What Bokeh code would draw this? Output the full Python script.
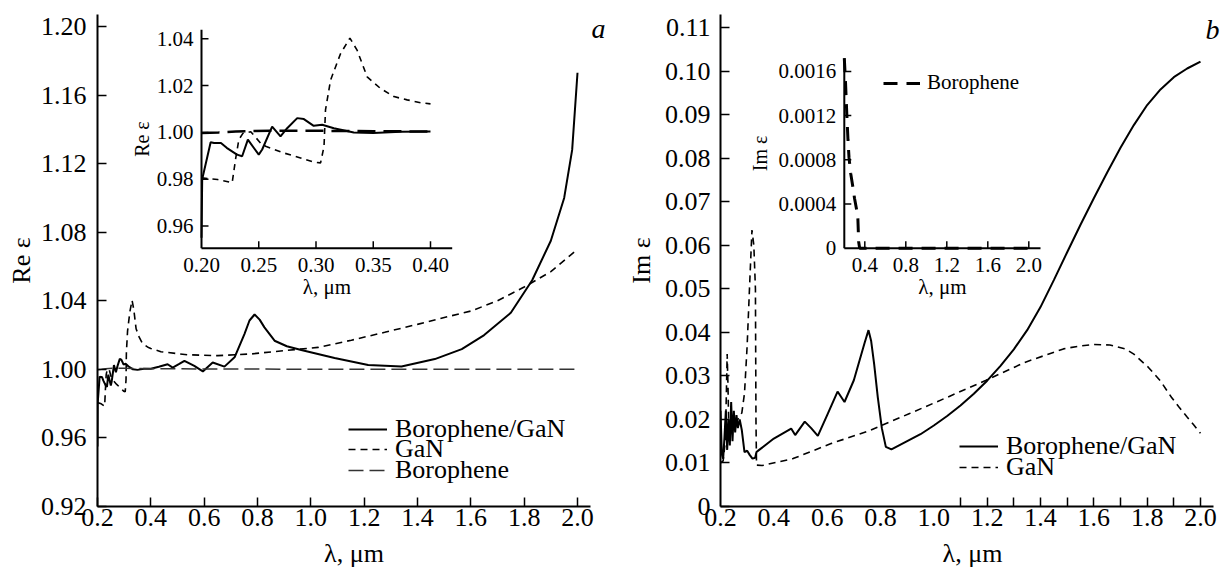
import numpy as np
from bokeh.plotting import figure
from bokeh.layouts import row
from bokeh.models import Range1d, FixedTicker, Legend, LegendItem, Label, NumeralTickFormatter
from bokeh.core.properties import value
from bokeh.embed import file_html
from bokeh.resources import INLINE

FONT = "Liberation Serif, Times New Roman, DejaVu Serif, serif"

# ---------------- panel a : Re eps ----------------
lam_re_bg = [0.200, 0.2006, 0.208, 0.211, 0.217, 0.222, 0.231, 0.2355, 0.2405, 0.250, 0.253,
             0.2617, 0.269, 0.2748, 0.2836, 0.2894, 0.298, 0.3054, 0.3156, 0.333, 0.350, 0.374,
             0.400, 0.430, 0.463, 0.482, 0.505, 0.526, 0.563, 0.595, 0.632, 0.676, 0.714, 0.751,
             0.770, 0.789, 0.808, 0.826, 0.864, 0.910, 0.964, 1.089, 1.215, 1.340, 1.465, 1.566,
             1.650, 1.750, 1.830, 1.900, 1.950, 1.980, 2.000]
re_bg = [0.955, 0.980, 0.9958, 0.9955, 0.9955, 0.9934, 0.9905, 0.9898, 0.9969, 0.9905, 0.9927,
         1.0025, 0.9983, 1.0018, 1.0061, 1.0057, 1.0028, 1.0033, 1.0018, 1.0000, 0.9997, 1.0003,
         1.0004, 1.0015, 1.0030, 1.0010, 1.0030, 1.0050, 1.0020, 0.9988, 1.0040, 1.0016, 1.0070,
         1.0206, 1.0285, 1.0320, 1.0290, 1.0245, 1.0167, 1.0135, 1.0113, 1.0066, 1.0025, 1.0017,
         1.0060, 1.0118, 1.0200, 1.0330, 1.0520, 1.0750, 1.1000, 1.1280, 1.1730]

lam_re_gan = [0.200, 0.214, 0.2268, 0.2297, 0.2326, 0.236, 0.243, 0.2515, 0.256, 0.272, 0.2865,
              0.298, 0.304, 0.307, 0.3083, 0.3127, 0.3214, 0.3296, 0.336, 0.3447, 0.3563, 0.368,
              0.3796, 0.3913, 0.400, 0.438, 0.538, 0.651, 0.776, 0.900, 1.027, 1.152, 1.277,
              1.403, 1.528, 1.600, 1.700, 1.800, 1.900, 2.000]
re_gan = [0.9806, 0.9799, 0.9785, 0.9884, 0.9969, 0.9995, 1.0003, 0.9955, 0.9941, 0.9912, 0.9891,
          0.9873, 0.9870, 0.9940, 1.0096, 1.0223, 1.0336, 1.0403, 1.0350, 1.0237, 1.0188, 1.0153,
          1.0139, 1.0127, 1.0122, 1.0103, 1.0085, 1.0080, 1.0090, 1.0109, 1.0128, 1.0170, 1.0216,
          1.0264, 1.0313, 1.0340, 1.0400, 1.0480, 1.0570, 1.0700]

lam_re_b = [0.200, 0.215, 0.230, 0.260, 0.300, 0.350, 0.400, 0.600, 1.000, 1.500, 2.000]
re_b = [0.9998, 1.0000, 1.0004, 1.0007, 1.0007, 1.0005, 1.0004, 1.0002, 1.0001, 1.0000, 1.0000]

# ---------------- panel b : Im eps ----------------
lam_im_bg = [0.200, 0.205, 0.210, 0.215, 0.220, 0.225, 0.230, 0.235, 0.240, 0.245, 0.250, 0.255,
             0.260, 0.265, 0.272, 0.280, 0.290, 0.300, 0.310, 0.320, 0.330, 0.335, 0.345, 0.400,
             0.465, 0.480, 0.516, 0.540, 0.565, 0.600, 0.639, 0.665, 0.700, 0.740, 0.755, 0.765,
             0.776, 0.790, 0.805, 0.820, 0.841, 0.900, 0.950, 1.000, 1.050, 1.100, 1.150, 1.200,
             1.250, 1.300, 1.350, 1.400, 1.450, 1.500, 1.550, 1.600, 1.650, 1.700, 1.750, 1.800,
             1.850, 1.900, 1.950, 2.000]
im_bg = [0.0220, 0.0120, 0.0110, 0.0160, 0.0220, 0.0130, 0.0200, 0.0140, 0.0240, 0.0150, 0.0220,
         0.0170, 0.0210, 0.0180, 0.0200, 0.0175, 0.0125, 0.0128, 0.0118, 0.0110, 0.0112, 0.0125,
         0.0130, 0.0156, 0.0179, 0.0164, 0.0195, 0.0180, 0.0162, 0.0210, 0.0264, 0.0240, 0.0290,
         0.0375, 0.0405, 0.0380, 0.0328, 0.0250, 0.0180, 0.0137, 0.0131, 0.0150, 0.0166, 0.0186,
         0.0208, 0.0232, 0.0259, 0.0289, 0.0323, 0.0361, 0.0405, 0.0458, 0.0520, 0.0584, 0.0647,
         0.0708, 0.0767, 0.0824, 0.0876, 0.0922, 0.0958, 0.0986, 0.1006, 0.1022]

lam_im_gan = [0.200, 0.210, 0.218, 0.222, 0.225, 0.228, 0.232, 0.240, 0.250, 0.260, 0.270, 0.280,
              0.290, 0.300, 0.310, 0.318, 0.325, 0.331, 0.333, 0.335, 0.356, 0.472, 0.617, 0.762,
              0.907, 1.051, 1.196, 1.341, 1.486, 1.550, 1.600, 1.660, 1.718, 1.750, 1.804, 1.850,
              1.891, 1.920, 1.949, 1.975, 2.000]
im_gan = [0.0100, 0.0105, 0.0150, 0.0260, 0.0350, 0.0280, 0.0150, 0.0175, 0.0180, 0.0195, 0.0205,
          0.0215, 0.0260, 0.0370, 0.0520, 0.0635, 0.0600, 0.0500, 0.0200, 0.0095, 0.0094, 0.0110,
          0.0145, 0.0175, 0.0213, 0.0251, 0.0290, 0.0331, 0.0362, 0.0369, 0.0372, 0.0371, 0.0362,
          0.0350, 0.0320, 0.0288, 0.0251, 0.0228, 0.0206, 0.0187, 0.0168]

lam_im_b = [0.200, 0.212, 0.225, 0.236, 0.246, 0.262, 0.281, 0.300, 0.318, 0.332, 0.340, 0.350,
            0.400, 0.800, 1.200, 1.600, 2.000]
im_b = [0.00172, 0.00150, 0.00120, 0.00098, 0.00082, 0.00068, 0.00057, 0.00045, 0.00036, 0.00028,
        0.00006, 0.0, 0.0, 0.0, 0.0, 0.0, 0.0]

# ---------------- ticks ----------------
a_xticks = [0.2, 0.4, 0.6, 0.8, 1.0, 1.2, 1.4, 1.6, 1.8, 2.0]
a_xlabels = ["0.2", "0.4", "0.6", "0.8", "1.0", "1.2", "1.4", "1.6", "1.8", "2.0"]
a_yticks = [0.92, 0.96, 1.00, 1.04, 1.08, 1.12, 1.16, 1.20]
a_ylabels = ["0.92", "0.96", "1.00", "1.04", "1.08", "1.12", "1.16", "1.20"]
b_xticks = a_xticks
b_xlabels = a_xlabels
b_xminor = [1.1, 1.2, 1.3, 1.4, 1.5, 1.6, 1.7, 1.8, 1.9, 2.0]
b_yticks = [0.0, 0.01, 0.02, 0.03, 0.04, 0.05, 0.06, 0.07, 0.08, 0.09, 0.10, 0.11]
b_ylabels = ["0", "0.01", "0.02", "0.03", "0.04", "0.05", "0.06", "0.07", "0.08", "0.09", "0.10", "0.11"]

ia_xticks = [0.25, 0.30, 0.35, 0.40]
ia_xlabel_pos = [0.20, 0.25, 0.30, 0.35, 0.40]
ia_xlabels = ["0.20", "0.25", "0.30", "0.35", "0.40"]
ia_yticks = [0.96, 0.98, 1.00, 1.02, 1.04]
ia_ylabels = ["0.96", "0.98", "1.00", "1.02", "1.04"]
ib_xticks = [0.4, 0.8, 1.2, 1.6, 2.0]
ib_xlabels = ["0.4", "0.8", "1.2", "1.6", "2.0"]
ib_yticks = [0.0004, 0.0008, 0.0012, 0.0016]
ib_ylabel_pos = [0.0, 0.0004, 0.0008, 0.0012, 0.0016]
ib_ylabels = ["0", "0.0004", "0.0008", "0.0012", "0.0016"]

H = 572
PX_PER_UNIT = 480 / 1.8  # horizontal scale of both main panels


def make_panel(width, bl, br, bt, bb, xr, yr, xbound, xticks, xlabels, yticks, ylabels, ylab,
               ystand, ylabstand):
    p = figure(width=width, height=H, x_range=Range1d(*xr), y_range=Range1d(*yr),
               output_backend="svg", toolbar_location=None,
               min_border_left=bl, min_border_right=br, min_border_top=bt, min_border_bottom=bb)
    p.outline_line_color = None
    p.grid.visible = False
    p.xaxis.ticker = FixedTicker(ticks=xticks)
    p.yaxis.ticker = FixedTicker(ticks=yticks)
    p.xaxis.formatter = NumeralTickFormatter(format="0.0")
    p.yaxis.formatter = NumeralTickFormatter(format="0.00")
    p.xaxis.major_label_overrides = dict(zip(xticks, xlabels))
    p.yaxis.major_label_overrides = dict(zip(yticks, ylabels))
    p.xaxis.bounds = xbound
    for ax in (p.xaxis[0], p.yaxis[0]):
        ax.axis_line_width = 2
        ax.axis_line_color = "black"
        ax.major_tick_in = 9
        ax.major_tick_out = 0
        ax.major_tick_line_width = 1.5
        ax.minor_tick_in = 0
        ax.minor_tick_out = 0
        ax.major_label_text_font = FONT
        ax.major_label_text_font_size = "26px"
        ax.major_label_text_color = "black"
        ax.axis_label_text_font = FONT
        ax.axis_label_text_font_size = "26px"
        ax.axis_label_text_font_style = "normal"
        ax.axis_label_text_color = "black"
    p.xaxis.axis_label = "λ, μm"
    p.xaxis.major_label_standoff = 2
    p.xaxis.axis_label_standoff = 10
    p.yaxis.axis_label = ylab
    p.yaxis.major_label_standoff = ystand
    p.yaxis.axis_label_standoff = ylabstand
    return p


def px_map(a_px, a_val, b_px, b_val):
    s = (b_val - a_val) / (b_px - a_px)
    return lambda px: a_val + (px - a_px) * s


def draw_inset(p, name, fx, fy, F, box, xticks, xlab_pos, xlabels, yticks, ylab_pos, ylabels,
               xlabel, ylabel, ylabel_dx, fs):
    fl, ft, fw, fh = F
    p.extra_x_ranges[name + "x"] = Range1d(fx(fl), fx(fl + fw))
    p.extra_y_ranges[name + "y"] = Range1d(fy(ft + fh), fy(ft))
    X0, X1, Yb, Yt = box
    x0, x1, y0, y1 = fx(X0), fx(X1), fy(Yb), fy(Yt)
    kw = dict(x_range_name=name + "x", y_range_name=name + "y")
    p.line(x=[x0, x1], y=[y0, y0], line_color="black", line_width=2, **kw)
    p.line(x=[x0, x0], y=[y0, y1], line_color="black", line_width=2, **kw)
    p.ray(x=xticks, y=[y0] * len(xticks), length=7, length_units="screen", angle=np.pi / 2,
          line_color="black", line_width=1.5, **kw)
    p.ray(x=[x0] * len(yticks), y=yticks, length=7, length_units="screen", angle=0,
          line_color="black", line_width=1.5, **kw)
    tk = dict(text_font=value(FONT), text_font_size=value(fs), text_color="black")
    p.text(x=xlab_pos, y=[y0] * len(xlab_pos), text=xlabels, text_align="center",
           text_baseline="middle", y_offset=17, **tk, **kw)
    p.text(x=[x0] * len(ylab_pos), y=ylab_pos, text=ylabels, text_align="right",
           text_baseline="middle", x_offset=-8, **tk, **kw)
    p.text(x=[(x0 + x1) / 2], y=[y0], text=[xlabel], text_align="center", text_baseline="middle",
           y_offset=39, **tk, **kw)
    p.text(x=[x0], y=[(y0 + y1) / 2], text=[ylabel], text_align="center", text_baseline="middle",
           angle=np.pi / 2, x_offset=ylabel_dx, text_font=value(FONT), text_font_size=value("20px"),
           text_color="black", **kw)
    return kw


def one_legend(p, label, rend, loc, fs="26px", gw=39, stand=8):
    lg = Legend(items=[LegendItem(label=label, renderers=[rend])], location=loc)
    lg.padding = 0
    lg.margin = 0
    lg.border_line_color = None
    lg.background_fill_alpha = 0
    lg.glyph_width = gw
    lg.glyph_height = 20
    lg.label_height = 20
    lg.label_standoff = stand
    lg.spacing = 0
    lg.label_text_font = FONT
    lg.label_text_font_size = fs
    lg.label_text_color = "black"
    p.add_layout(lg, "center")


def upto(lx, ly, lim):
    lx = np.asarray(lx); ly = np.asarray(ly)
    m = lx <= lim + 1e-9
    return lx[m], ly[m]


# ======================= panel a =======================
# frame: x 97..610, y 14..507 ; 0.2 at x=97, 2.0 at x=577
a_xend = 2.0 + (610 - 577) / PX_PER_UNIT
pa = make_panel(613, 97, 3, 14, 65, (0.2, a_xend), (0.92, 1.207), (0.2, 2.0488),
                a_xticks, a_xlabels, a_yticks, a_ylabels, "Re ε", 11, 2)
r1 = pa.line(lam_re_bg, re_bg, line_color="black", line_width=2)
r2 = pa.line(lam_re_gan, re_gan, line_color="black", line_width=1.6, line_dash="7 5")
r3 = pa.line(lam_re_b, re_b, line_color="#333333", line_width=1.5, line_dash="15 6")
one_legend(pa, "Borophene/GaN", r1, (251, 507 - 430 - 15))
one_legend(pa, "GaN", r2, (251, 507 - 450 - 15))
one_legend(pa, "Borophene", r3, (251, 507 - 471 - 15))
pa.add_layout(Label(x=2.079, y=1.1988, text="a", text_font=FONT, text_font_size="28px",
                    text_font_style="italic", text_align="center", text_baseline="middle",
                    text_color="black"))

fxa = px_map(201, 0.20, 430, 0.40)
fya = px_map(226, 0.96, 38.3, 1.04)
kwa = draw_inset(pa, "ia", fxa, fya, (97, 14, 513, 493), (201, 451.7, 248.3, 29.3),
                 ia_xticks, ia_xlabel_pos, ia_xlabels, ia_yticks, ia_yticks, ia_ylabels,
                 "λ, μm", "Re ε", -60, "21px")
xs, ys = upto(lam_re_bg, re_bg, 0.40)
pa.line(xs, ys, line_color="black", line_width=2, **kwa)
xs, ys = upto(lam_re_gan, re_gan, 0.40)
pa.line(xs, ys, line_color="black", line_width=1.6, line_dash="6 5", **kwa)
xs, ys = upto(lam_re_b, re_b, 0.40)
pa.line(xs, ys, line_color="black", line_width=2.5, line_dash="18 8", **kwa)

# ======================= panel b =======================
# frame: x 720..1224 (local 107..611), y 13..506 ; 0.2 at 720, 2.0 at 1200
b_xend = 2.0 + (1224 - 1200) / PX_PER_UNIT
pb = make_panel(613, 107, 2, 13, 66, (0.2, b_xend), (0.0, 0.113), (0.2, 2.0488),
                b_xticks, b_xlabels, b_yticks, b_ylabels, "Im ε", 10, 6)
pb.xaxis.major_tick_in = 0
pb.xaxis.ticker = FixedTicker(ticks=b_xticks, minor_ticks=b_xminor)
pb.xaxis.minor_tick_in = 9
pb.xaxis.minor_tick_line_width = 1.5
pb.xaxis.minor_tick_line_color = "black"
s1 = pb.line(lam_im_bg, im_bg, line_color="black", line_width=2)
s2 = pb.line(lam_im_gan, im_gan, line_color="black", line_width=1.6, line_dash="7 5")
one_legend(pb, "Borophene/GaN", s1, (239, 506 - 446 - 15))
one_legend(pb, "GaN", s2, (239, 506 - 467 - 15))
pb.add_layout(Label(x=2.045, y=0.1095, text="b", text_font=FONT, text_font_size="28px",
                    text_font_style="italic", text_align="center", text_baseline="middle",
                    text_color="black"))

fxb = px_map(864.3 - 613, 0.4, 1028.3 - 613, 2.0)
fyb = px_map(247.3, 0.0, 70, 0.0016)
kwb = draw_inset(pb, "ib", fxb, fyb, (107, 13, 504, 493), (843.8 - 613, 1040 - 613, 247.3, 57),
                 ib_xticks, ib_xticks, ib_xlabels, ib_yticks, ib_ylabel_pos, ib_ylabels,
                 "λ, μm", "Im ε", -84, "21px")
s3 = pb.line(lam_im_b, im_b, line_color="black", line_width=3, line_dash="14 9", **kwb)
one_legend(pb, "Borophene", s3, (163, 506 - 82 - 13), fs="21px", gw=37, stand=7)

layout = row(pa, pb)
open("out.html", "w").write(file_html(layout, INLINE))
